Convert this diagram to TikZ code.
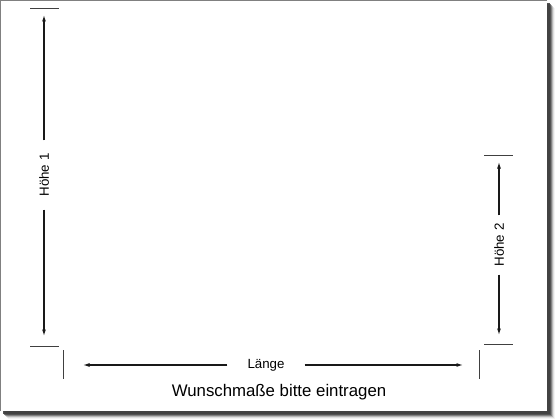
\documentclass[tikz,border=0pt]{standalone}
\usepackage{fontspec}
\setmainfont{Liberation Sans}
\usetikzlibrary{arrows.meta, positioning, calc}

\begin{document}
\begin{tikzpicture}[x=1pt,y=-1pt,
  tick/.style={draw=black!75, line width=0.9pt},
  dim/.style={draw=black!90, line width=1.2pt, -{Latex[length=6.5pt,width=4pt]}},
  dimlabel/.style={font=\fontsize{13.3}{15}\selectfont, inner ysep=0pt}]
\useasboundingbox (0,0) rectangle (560,420);

% paper with drop shadow
\foreach \o/\op in {8/0.06,7/0.12,6/0.25,5/0.45,4/0.7,3/0.9} {
  \fill[black!75, opacity=\op] (\o,\o) rectangle (547+\o,411+\o);
}
\fill[white] (0,0) rectangle (547,411);
\draw[black!50, line width=1.5pt] (547,0) -- (0,0) -- (0,411);

% end marks
\foreach \xa/\xb/\y in {30/59/8, 30/59/346, 484/513/155, 484/513/344} {
  \draw[tick] (\xa,\y) -- (\xb,\y);
}
\foreach \x in {63,479} {
  \draw[tick] (\x,350) -- (\x,379);
}

% Hoehe 1
\coordinate (h1top) at (44,15);
\coordinate (h1bot) at (44,336);
\node[dimlabel, rotate=90, inner xsep=13pt] (h1) at (44,175) {Höhe 1};
\draw[dim] (h1.east) -- (h1top);
\draw[dim] (h1.west) -- (h1bot);

% Hoehe 2
\coordinate (h2top) at (499,162);
\coordinate (h2bot) at (499,335);
\node[dimlabel, rotate=90, inner xsep=8pt] (h2) at (499,245) {Höhe 2};
\draw[dim] (h2.east) -- (h2top);
\draw[dim] (h2.west) -- (h2bot);

% Laenge
\coordinate (lleft) at (83,365);
\coordinate (lright) at (463,365);
\node[dimlabel, inner xsep=20pt] (laenge) at (266,365) {Länge};
\draw[dim] (laenge.west) -- (lleft);
\draw[dim] (laenge.east) -- (lright);

\node[font=\fontsize{16.8}{20}\selectfont] (hint) at (279,392) {Wunschmaße bitte eintragen};
\end{tikzpicture}
\end{document}
